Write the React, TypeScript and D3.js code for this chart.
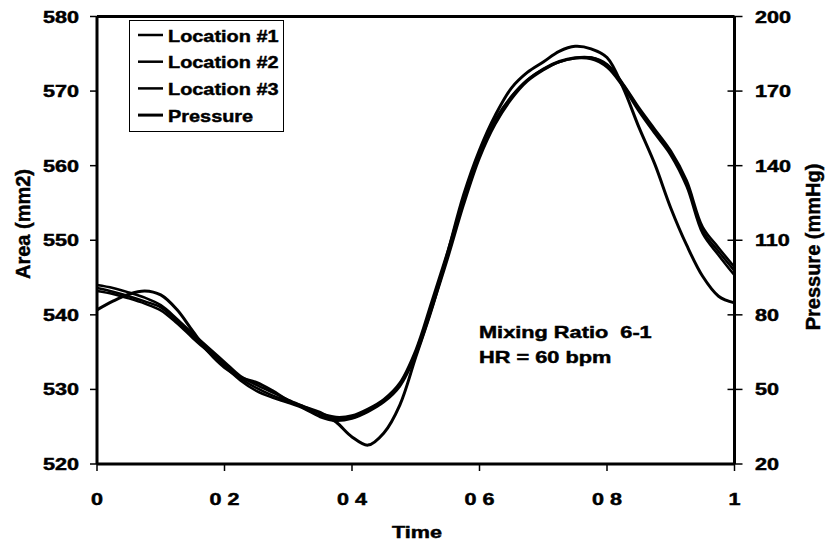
import React from "react";
import * as d3 from "d3";

const times = [
  0, 0.025, 0.05, 0.075, 0.1, 0.125, 0.15, 0.175, 0.2, 0.225, 0.25, 0.275, 0.3, 0.325, 0.35, 0.375, 0.4,
  0.425, 0.45, 0.475, 0.5, 0.525, 0.55, 0.575, 0.6, 0.625, 0.65, 0.675, 0.7, 0.725, 0.75, 0.775, 0.8,
  0.825, 0.85, 0.875, 0.9, 0.925, 0.95, 0.975, 1,
];

const location1 = [
  544.0, 543.6, 543.0, 542.3, 541.3, 539.5, 537.5, 535.6, 533.7, 531.8, 530.6, 529.6, 528.6, 527.7, 526.8,
  526.3, 526.5, 527.4, 528.7, 530.9, 535.3, 541.8, 548.5, 555.6, 561.8, 566.2, 569.3, 571.5, 572.9, 573.9,
  574.4, 574.3, 573.2, 570.6, 567.3, 564.3, 561.4, 557.2, 550.9, 548.0, 545.3,
];
const location2 = [
  543.6, 543.1, 542.5, 541.8, 541.0, 539.2, 537.2, 535.3, 533.4, 531.5, 530.2, 529.2, 528.4, 527.5, 526.5,
  526.0, 526.3, 527.2, 528.5, 530.7, 535.0, 541.3, 548.0, 555.2, 561.5, 566.0, 569.2, 571.5, 573.0, 574.0,
  574.5, 574.5, 573.5, 570.9, 567.6, 564.6, 561.7, 557.6, 551.3, 548.5, 545.9,
];
const location3 = [
  543.2, 542.8, 542.2, 541.5, 540.6, 538.9, 536.9, 535.0, 533.1, 531.2, 529.8, 528.9, 528.2, 527.4, 526.3,
  525.8, 526.1, 527.0, 528.3, 530.4, 534.6, 540.8, 547.5, 554.7, 561.0, 565.6, 568.9, 571.3, 572.8, 573.9,
  574.4, 574.5, 573.6, 571.0, 567.8, 564.9, 562.0, 558.0, 551.8, 549.0, 546.4,
];
const pressure = [
  82.0, 85.5, 88.3, 89.6, 88.0, 82.2, 73.5, 65.0, 58.8, 54.8, 52.8, 49.5, 45.5, 43.0, 40.8, 36.9, 30.9,
  27.6, 32.5, 43.7, 63.0, 82.3, 104.9, 128.2, 146.3, 160.4, 171.2, 177.5, 181.7, 186.0, 188.0, 187.0,
  183.5, 171.5, 155.5, 140.6, 123.0, 108.0, 95.5, 87.5, 84.8,
];

const xTicks = [0, 0.2, 0.4, 0.6, 0.8, 1];
const xTickLabels = ["0", "0 2", "0 4", "0 6", "0 8", "1"];
const areaTicks = [520, 530, 540, 550, 560, 570, 580];
const pressureTicks = [20, 50, 80, 110, 140, 170, 200];
const legendLabels = ["Location #1", "Location #2", "Location #3", "Pressure"];
const annotation = ["Mixing Ratio  6-1", "HR = 60 bpm"];

const FONT = "'Liberation Sans', Arial, sans-serif";
const SX = 1.35;

export default function App() {
  const left = 97, right = 734.5, top = 16.5, bottom = 464;
  const x = d3.scaleLinear().domain([0, 1]).range([left, right]);
  const yA = d3.scaleLinear().domain([520, 580]).range([bottom, top]);
  const yP = d3.scaleLinear().domain([20, 200]).range([bottom, top]);

  const lineA = d3
    .line<number>()
    .x((_, i) => x(times[i]))
    .y((d) => yA(d))
    .curve(d3.curveCatmullRom.alpha(0.5));
  const lineP = d3
    .line<number>()
    .x((_, i) => x(times[i]))
    .y((d) => yP(d))
    .curve(d3.curveCatmullRom.alpha(0.5));

  const T = (props: {
    x: number; y: number; s?: number; anchor?: string; size?: number; rot?: number; children: React.ReactNode;
  }) => (
    <text
      transform={`translate(${props.x},${props.y}) rotate(${props.rot ?? 0}) scale(${props.s ?? SX},1)`}
      textAnchor={props.anchor ?? "start"}
      fontFamily={FONT}
      fontWeight="bold"
      fontSize={props.size ?? 16}
      fill="#000"
      stroke="#000"
      strokeWidth={0.45}
      style={{ whiteSpace: "pre" }}
    >
      {props.children}
    </text>
  );

  return (
    <svg width={826} height={543} style={{ position: "absolute", left: 0, top: 0, background: "#fff" }}>
      <rect x={0} y={0} width={826} height={543} fill="#fff" />
      {/* series */}
      <g fill="none" stroke="#000" strokeLinejoin="round">
        <path d={lineA(location1) ?? ""} strokeWidth={2.5} />
        <path d={lineA(location2) ?? ""} strokeWidth={2.5} />
        <path d={lineA(location3) ?? ""} strokeWidth={2.5} />
        <path d={lineP(pressure) ?? ""} strokeWidth={3} />
      </g>

      {/* frame */}
      <line x1={left} x2={right} y1={top} y2={top} stroke="#000" strokeWidth={3} />
      <line x1={left} x2={right} y1={bottom} y2={bottom} stroke="#000" strokeWidth={3} />
      <line x1={left} x2={left} y1={top} y2={bottom} stroke="#000" strokeWidth={3} />
      <line x1={right} x2={right} y1={top} y2={bottom} stroke="#000" strokeWidth={3} />

      {/* left ticks */}
      {areaTicks.map((t) => (
        <g key={"a" + t}>
          <line x1={left - 7} x2={left} y1={yA(t)} y2={yA(t)} stroke="#000" strokeWidth={1.5} />
          <T x={79} y={yA(t) + 6} anchor="end">{t}</T>
        </g>
      ))}
      {/* right ticks */}
      {pressureTicks.map((t) => (
        <g key={"p" + t}>
          <line x1={right - 7} x2={right + 8} y1={yP(t)} y2={yP(t)} stroke="#000" strokeWidth={1.5} />
          <T x={755} y={yP(t) + 6}>{t}</T>
        </g>
      ))}
      {/* x ticks */}
      {xTicks.map((t, i) => (
        <g key={"x" + t}>
          <line x1={x(t)} x2={x(t)} y1={bottom} y2={bottom + 7} stroke="#000" strokeWidth={1.5} />
          <T x={x(t)} y={505} anchor="middle">{xTickLabels[i]}</T>
        </g>
      ))}

      {/* axis titles */}
      <T x={417} y={538} anchor="middle">Time</T>
      <T x={30} y={224} anchor="middle" rot={-90} s={1} size={20}>Area (mm2)</T>
      <T x={820} y={247} anchor="middle" rot={-90} s={1} size={20}>Pressure (mmHg)</T>

      {/* legend */}
      <rect x={129.5} y={20.5} width={154} height={111} fill="#fff" stroke="#000" strokeWidth={1} />
      {legendLabels.map((l, i) => (
        <g key={l}>
          <line x1={138} x2={163} y1={35 + i * 26.7} y2={35 + i * 26.7} stroke="#000" strokeWidth={i === 3 ? 3 : 2.5} />
          <T x={168} y={41.5 + i * 26.7} size={17} s={1.17}>{l}</T>
        </g>
      ))}

      {/* annotation */}
      {annotation.map((a, i) => (
        <T key={a} x={479} y={338 + i * 25} s={1.36}>{a}</T>
      ))}
    </svg>
  );
}
